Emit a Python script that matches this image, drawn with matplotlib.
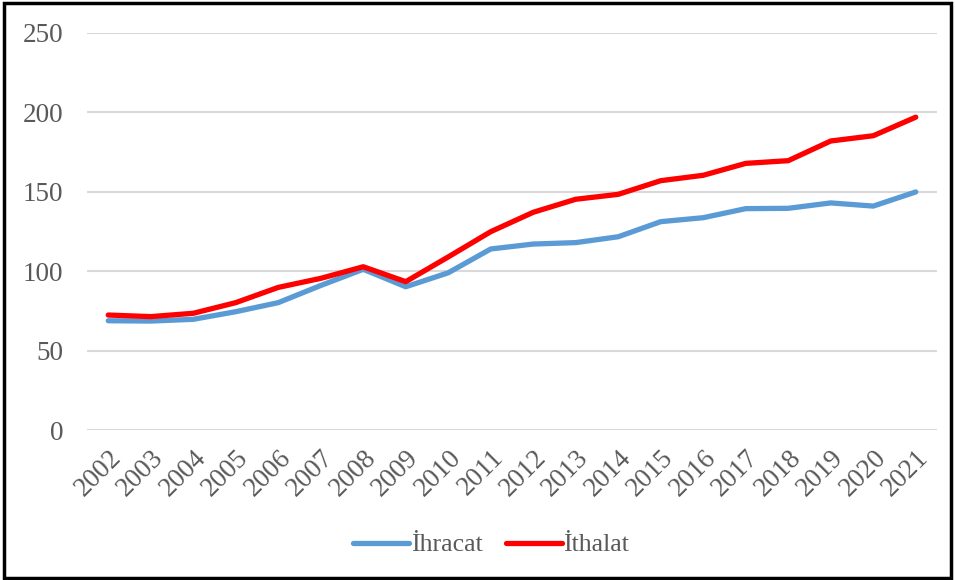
import matplotlib
matplotlib.use("Agg")
import matplotlib.pyplot as plt
from matplotlib.patches import Rectangle

years = [str(y) for y in range(2002, 2022)]
ihracat = [68.8, 68.6, 69.7, 74.5, 80.2, 91.0, 101.2, 90.2, 99.0, 114.0,
           117.1, 118.0, 121.7, 131.2, 133.7, 139.4, 139.6, 143.0, 141.0, 149.9]
ithalat = [72.4, 71.4, 73.5, 80.2, 89.8, 95.5, 102.8, 93.4, 109.0, 124.9,
           137.1, 145.3, 148.4, 157.0, 160.4, 167.9, 169.6, 182.0, 185.3, 197.0]
yticks = [0, 50, 100, 150, 200, 250]

plt.rcParams['font.family'] = ['Liberation Serif', 'DejaVu Serif']

fig = plt.figure(figsize=(9.55, 5.8), dpi=100)
ax = fig.add_axes([87/955, 1-430/580, 850/955, 397/580])

x = list(range(len(years)))
ax.plot(x, ihracat, color='#5B9BD5', lw=3.8, solid_capstyle='round', label='İhracat', zorder=3)
ax.plot(x, ithalat, color='#FF0000', lw=3.8, solid_capstyle='round', label='İthalat', zorder=4)

ax.set_xlim(-0.5, len(years) - 0.5)
ax.set_ylim(0, 250)
ax.set_yticks(yticks)
ax.set_yticklabels([str(v) for v in yticks])
ax.set_xticks(x)
ax.set_xticklabels(years, rotation=45, ha='right', va='top', rotation_mode='anchor')
ax.grid(axis='y', color='#d9d9d9', lw=1.5)
ax.set_axisbelow(True)
for s in ax.spines.values():
    s.set_visible(False)
ax.tick_params(axis='both', length=0, labelsize=19.5, labelcolor='#595959')
ax.tick_params(axis='y', pad=17)
ax.tick_params(axis='x', pad=11)

leg = fig.legend(loc='center', bbox_to_anchor=(491/955, 1-545/580), ncol=2, frameon=False,
                 fontsize=18.5, handlelength=2.2, columnspacing=0.9, handletextpad=0.05)
for t in leg.get_texts():
    t.set_color('#595959')

fig.patches.append(Rectangle((0.004, 0.004), 0.992, 0.99, transform=fig.transFigure,
                             fill=False, edgecolor='black', lw=2.5))

fig.savefig('out.png', dpi=100)
